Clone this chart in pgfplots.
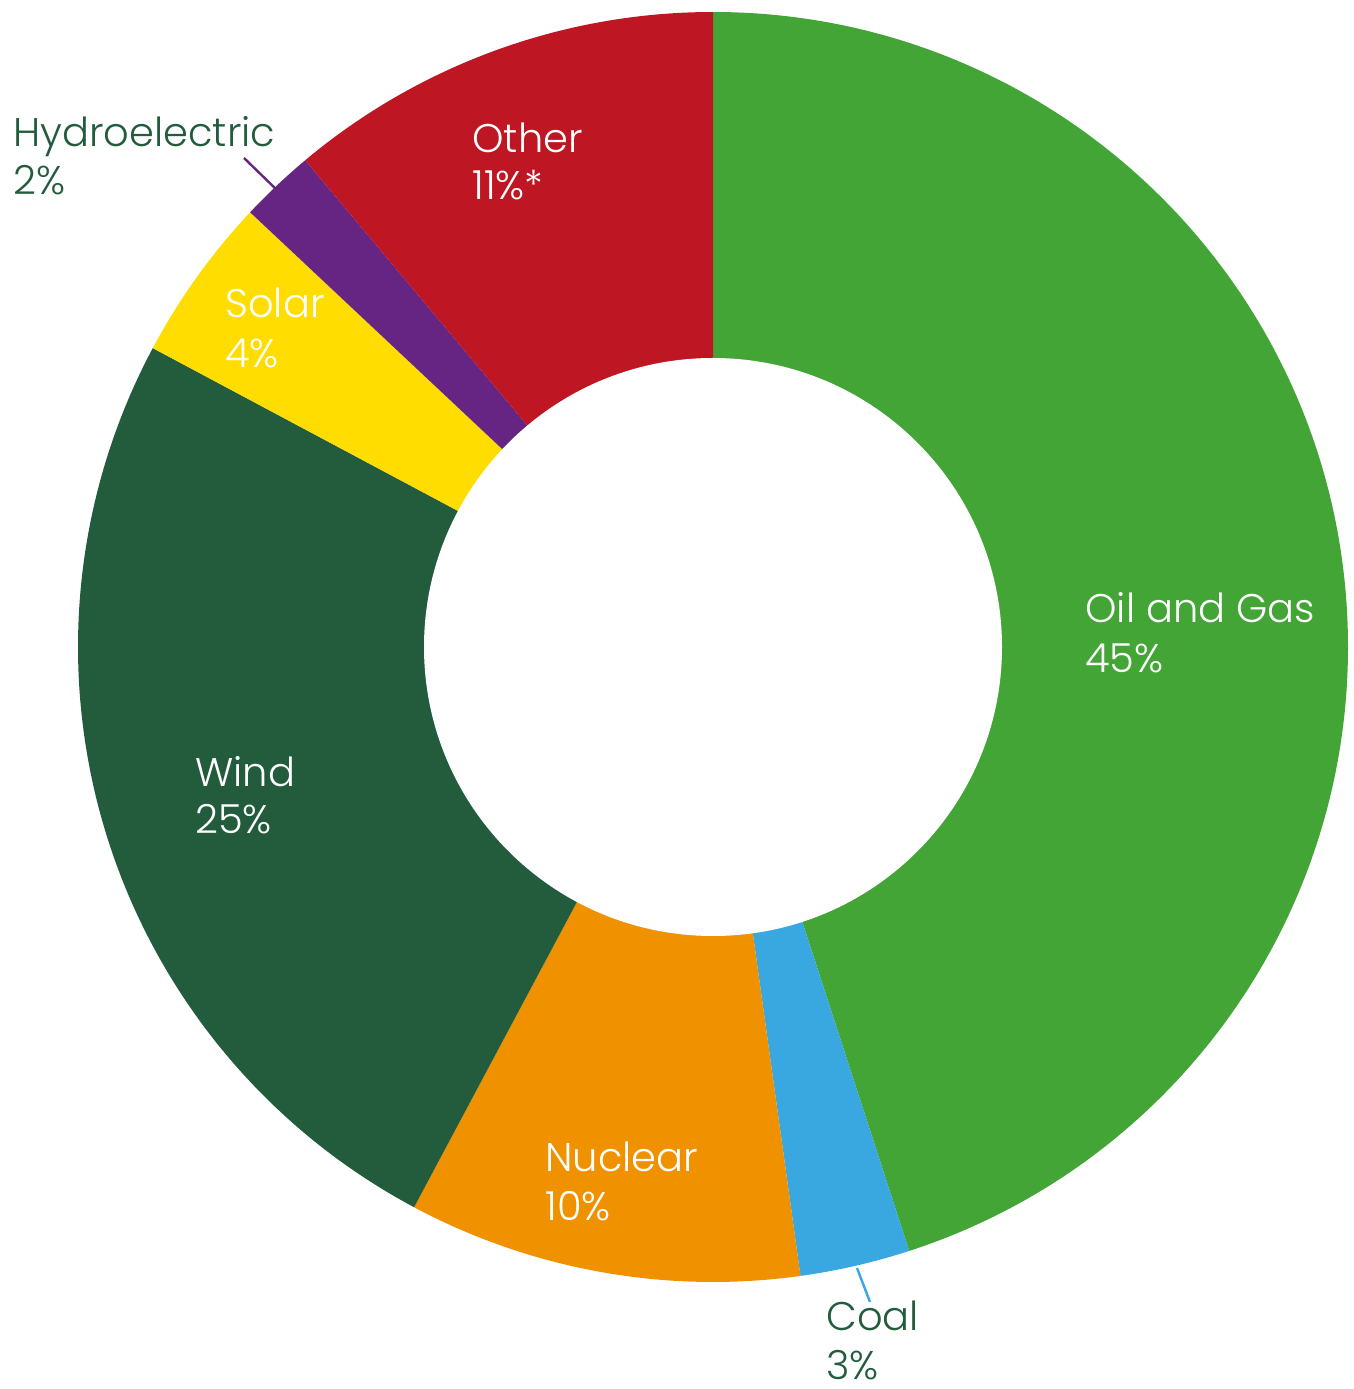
\documentclass[border=0pt]{standalone}
\usepackage{fontspec}
\setmainfont{Poppins}[UprightFont=* Light]
\usepackage{pgfplots}
\pgfplotsset{compat=1.18}
\usepackage{pgfplotstable}
\definecolor{cgreen}{HTML}{42A535}
\definecolor{cblue}{HTML}{3AA8E0}
\definecolor{corange}{HTML}{F09200}
\definecolor{cdkgreen}{HTML}{235C3C}
\definecolor{cyellow}{HTML}{FFDD00}
\definecolor{cpurple}{HTML}{662483}
\definecolor{cred}{HTML}{BE1622}
\tikzset{lbl/.style={anchor=base west,inner sep=0pt,font=\fontsize{20pt}{24pt}\selectfont}}
\pgfplotstableread{
name value color
OilGas 45.0 cgreen
Coal 2.8 cblue
Nuclear 10.0 corange
Wind 25.0 cdkgreen
Solar 4.2 cyellow
Hydro 1.9 cpurple
Other 11.1 cred
}\sharetable
\begin{document}
\begin{tikzpicture}
\begin{axis}[x=0.5pt,y=0.5pt,xmin=0,xmax=1354,ymin=0,ymax=1389,hide axis,clip=false]
\def\cum{0}
\pgfplotsforeachungrouped \i in {0,...,6}{%
  \pgfplotstablegetelem{\i}{value}\of\sharetable \let\sval\pgfplotsretval
  \pgfplotstablegetelem{\i}{color}\of\sharetable \let\scol\pgfplotsretval
  \pgfmathsetmacro\sa{90-3.6*\cum}%
  \pgfmathsetmacro\cum{\cum+\sval}%
  \pgfmathsetmacro\sb{90-3.6*\cum}%
  \edef\temp{\noexpand\fill[\scol] (axis cs:713,742) -- ++(\sa:317.5pt) arc[start angle=\sa, end angle=\sb, radius=317.5pt] -- cycle;}%
  \temp
}
\fill[white] (axis cs:713,742) circle[radius=144.5pt];
\draw[cblue, line width=1.2pt] (axis cs:857,121) -- (axis cs:870,87);
\draw[cpurple, line width=1.2pt] (axis cs:244,1231) -- (axis cs:280,1196);
\node[lbl,text=cdkgreen] at (axis cs:13,1242) {Hydroelectric};
\node[lbl,text=cdkgreen] at (axis cs:13,1194) {2\%};
\node[lbl,text=white] at (axis cs:472,1236) {Other};
\node[lbl,text=white] at (axis cs:472,1189) {11\%*};
\node[lbl,text=white] at (axis cs:225,1071) {Solar};
\node[lbl,text=white] at (axis cs:225,1021) {4\%};
\node[lbl,text=white] at (axis cs:195,602) {Wind};
\node[lbl,text=white] at (axis cs:195,555) {25\%};
\node[lbl,text=white] at (axis cs:545,217) {Nuclear};
\node[lbl,text=white] at (axis cs:545,168) {10\%};
\node[lbl,text=cdkgreen] at (axis cs:826,58) {Coal};
\node[lbl,text=cdkgreen] at (axis cs:826,10) {3\%};
\node[lbl,text=white] at (axis cs:1085,766) {Oil and Gas};
\node[lbl,text=white] at (axis cs:1085,716) {45\%};
\path (axis cs:0,0) rectangle (axis cs:1354,1389);
\end{axis}
\end{tikzpicture}
\end{document}
